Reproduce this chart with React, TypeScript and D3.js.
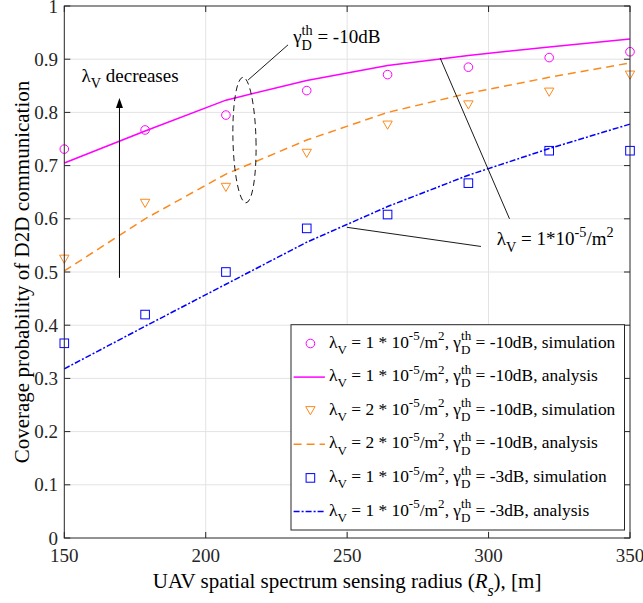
import React from "react";
import * as d3 from "d3";

const X = [150, 178.57, 207.14, 235.71, 264.29, 292.86, 321.43, 350];
const sim1 = [0.731, 0.767, 0.795, 0.841, 0.871, 0.885, 0.903, 0.914];
const ana1 = [0.705, 0.765, 0.823, 0.86, 0.888, 0.907, 0.923, 0.938];
const sim2 = [0.524, 0.629, 0.659, 0.723, 0.776, 0.814, 0.838, 0.87];
const ana2 = [0.502, 0.6, 0.684, 0.748, 0.8, 0.836, 0.866, 0.893];
const sim3 = [0.366, 0.42, 0.5, 0.582, 0.608, 0.667, 0.728, 0.728];
const ana3 = [0.318, 0.398, 0.477, 0.556, 0.623, 0.682, 0.732, 0.778];

const xTicks = [150, 200, 250, 300, 350];
const yTicks = [0, 0.1, 0.2, 0.3, 0.4, 0.5, 0.6, 0.7, 0.8, 0.9, 1];

const MAG = "#ff00ff";
const ORA = "#fb8a1e";
const BLU = "#0000ff";
const AX = "#262626";
const FONT = '"Liberation Serif", "Times New Roman", serif';

type Part =
  | { t: string; k?: "n" | "sub" | "sup"; it?: boolean }
  | { k: "ss"; sub: string; sup: string };

let ctx: CanvasRenderingContext2D | null = null;
function measure(s: string, size: number, italic = false) {
  if (!ctx) ctx = document.createElement("canvas").getContext("2d");
  if (!ctx) return s.length * size * 0.45;
  ctx.font = `${italic ? "italic " : ""}${size}px "Liberation Serif"`;
  return ctx.measureText(s).width;
}

function Rich(props: {
  x: number;
  y: number;
  size: number;
  parts: Part[];
  anchor?: string;
  transform?: string;
}) {
  const { x, y, size, parts, anchor = "start", transform } = props;
  const small = size * 0.75;
  const subY = 0.36 * size;
  const supY = -0.42 * size;
  const els: any[] = [];
  let cur = 0;
  let pdx = 0;
  parts.forEach((p: any, i) => {
    if (p.k === "ss") {
      const wsup = measure(p.sup, small);
      const wsub = measure(p.sub, small);
      els.push(
        <tspan key={i + "a"} dx={pdx || undefined} dy={supY - cur} fontSize={small}>
          {p.sup}
        </tspan>
      );
      els.push(
        <tspan key={i + "b"} dx={-wsup} dy={subY - supY} fontSize={small}>
          {p.sub}
        </tspan>
      );
      cur = subY;
      pdx = Math.max(0, wsup - wsub);
    } else {
      const target = p.k === "sub" ? subY : p.k === "sup" ? supY : 0;
      els.push(
        <tspan
          key={i}
          dx={pdx || undefined}
          dy={target - cur}
          fontSize={p.k === "sub" || p.k === "sup" ? small : size}
          fontStyle={p.it ? "italic" : undefined}
        >
          {p.t}
        </tspan>
      );
      cur = target;
      pdx = 0;
    }
  });
  return (
    <text
      x={x}
      y={y}
      fontSize={size}
      fontFamily={FONT}
      textAnchor={anchor}
      transform={transform}
      fill="#000"
      style={{ whiteSpace: "pre" }}
    >
      {els}
    </text>
  );
}

const legendItems = [
  { n: "1", g: "-10dB", kind: "simulation", color: MAG, marker: "o", dash: "" },
  { n: "1", g: "-10dB", kind: "analysis", color: MAG, marker: "", dash: "none" },
  { n: "2", g: "-10dB", kind: "simulation", color: ORA, marker: "v", dash: "" },
  { n: "2", g: "-10dB", kind: "analysis", color: ORA, marker: "", dash: "8,5" },
  { n: "1", g: "-3dB", kind: "simulation", color: BLU, marker: "s", dash: "" },
  { n: "1", g: "-3dB", kind: "analysis", color: BLU, marker: "", dash: "6,2,2,2" },
];

function Marker({ type, cx, cy, color }: { type: string; cx: number; cy: number; color: string }) {
  if (type === "o") return <circle cx={cx} cy={cy} r={4.3} fill="none" stroke={color} strokeWidth={1} />;
  if (type === "s")
    return <rect x={cx - 4.3} y={cy - 4.3} width={8.6} height={8.6} fill="none" stroke={color} strokeWidth={1} />;
  const h = 8.2;
  const w = 9.4;
  return (
    <path
      d={`M${cx - w / 2},${cy - h / 2}L${cx + w / 2},${cy - h / 2}L${cx},${cy + h / 2}Z`}
      fill="none"
      stroke={color}
      strokeWidth={1}
    />
  );
}

export default function App() {
  const x = d3.scaleLinear().domain([150, 350]).range([64.3, 630]);
  const y = d3.scaleLinear().domain([0, 1]).range([538, 6]);
  const line = d3
    .line<number>()
    .x((_, i) => x(X[i]))
    .y((v) => y(v));

  const [x0, x1] = x.range();
  const [y0, y1] = y.range();

  // annotations (data coordinates)
  const arrowX = 169.5;
  const arrowFrom = 0.489;
  const arrowTo = 0.827;
  const ax = x(arrowX);
  const at = y(arrowTo);

  const ell = { cx: 213.7, cy: 0.748, rx: 4.07, ry: 0.118 };

  const legRows = [343.5, 377.1, 410.7, 444.3, 477.9, 511.5];

  return (
    <svg
      width={643}
      height={603}
      style={{ position: "absolute", left: 0, top: 0, background: "#fff" }}
    >
      <rect x={0} y={0} width={643} height={603} fill="#fff" />
      {/* grid */}
      {xTicks.slice(1, -1).map((t) => (
        <line key={"gx" + t} x1={x(t)} x2={x(t)} y1={y0} y2={y1} stroke="#e3e3e3" strokeWidth={1} />
      ))}
      {yTicks.slice(1, -1).map((t) => (
        <line key={"gy" + t} x1={x0} x2={x1} y1={y(t)} y2={y(t)} stroke="#e3e3e3" strokeWidth={1} />
      ))}

      {/* analysis lines */}
      <path d={line(ana1) || ""} fill="none" stroke={MAG} strokeWidth={1.5} />
      <path d={line(ana2) || ""} fill="none" stroke={ORA} strokeWidth={1.5} strokeDasharray="8,5" />
      <path d={line(ana3) || ""} fill="none" stroke={BLU} strokeWidth={1.5} strokeDasharray="6,2,2,2" />

      {/* simulation markers */}
      {sim1.map((v, i) => (
        <Marker key={"m1" + i} type="o" cx={x(X[i])} cy={y(v)} color={MAG} />
      ))}
      {sim2.map((v, i) => (
        <Marker key={"m2" + i} type="v" cx={x(X[i])} cy={y(v)} color={ORA} />
      ))}
      {sim3.map((v, i) => (
        <Marker key={"m3" + i} type="s" cx={x(X[i])} cy={y(v)} color={BLU} />
      ))}

      {/* axes box */}
      <rect x={x0} y={y1} width={x1 - x0} height={y0 - y1} fill="none" stroke={AX} strokeWidth={1} />
      {xTicks.map((t) => (
        <g key={"tx" + t}>
          <line x1={x(t)} x2={x(t)} y1={y0} y2={y0 - 6} stroke={AX} />
          <line x1={x(t)} x2={x(t)} y1={y1} y2={y1 + 6} stroke={AX} />
          <text x={x(t)} y={561.5} fontSize={19} fontFamily={FONT} textAnchor="middle" fill={AX}>
            {t}
          </text>
        </g>
      ))}
      {yTicks.map((t) => (
        <g key={"ty" + t}>
          <line x1={x0} x2={x0 + 6} y1={y(t)} y2={y(t)} stroke={AX} />
          <line x1={x1} x2={x1 - 6} y1={y(t)} y2={y(t)} stroke={AX} />
          <text x={58} y={y(t) + 6.5} fontSize={19} fontFamily={FONT} textAnchor="end" fill={AX}>
            {String(t)}
          </text>
        </g>
      ))}

      {/* axis labels */}
      <Rich
        x={(x0 + x1) / 2}
        y={588}
        size={21}
        anchor="middle"
        parts={[
          { t: "UAV spatial spectrum sensing radius (" },
          { t: "R", it: true },
          { t: "s", k: "sub", it: true },
          { t: "), [m]" },
        ]}
      />
      <text
        transform={`translate(29,${(y0 + y1) / 2}) rotate(-90)`}
        fontSize={21}
        fontFamily={FONT}
        textAnchor="middle"
        fill="#000"
      >
        Coverage probability of D2D communication
      </text>

      {/* annotation: lambda decreases */}
      <line x1={ax} x2={ax} y1={y(arrowFrom)} y2={at + 9} stroke="#000" strokeWidth={1} />
      <path d={`M${ax},${at}L${ax - 3.5},${at + 10}L${ax + 3.5},${at + 10}Z`} fill="#000" />
      <Rich
        x={x(156.1)}
        y={y(0.858)}
        size={19}
        parts={[{ t: "λ" }, { t: "V", k: "sub" }, { t: " decreases" }]}
      />

      {/* annotation: gamma ellipse */}
      <ellipse
        cx={x(ell.cx)}
        cy={y(ell.cy)}
        rx={x(ell.cx + ell.rx) - x(ell.cx)}
        ry={y(ell.cy) - y(ell.cy + ell.ry)}
        transform={`rotate(-1.4 ${x(ell.cx)} ${y(ell.cy)})`}
        fill="none"
        stroke="#000"
        strokeWidth={0.9}
        strokeDasharray="6,4"
      />
      <line x1={x(215)} y1={y(0.861)} x2={x(229.1)} y2={y(0.927)} stroke="#000" strokeWidth={0.9} />
      <Rich
        x={x(230.9)}
        y={y(0.93)}
        size={19}
        parts={[{ t: "γ" }, { k: "ss", sub: "D", sup: "th" }, { t: " = -10dB" }]}
      />

      {/* annotation: lambda = 1e-5 */}
      <line x1={x(249.9)} y1={y(0.584)} x2={x(297.3)} y2={y(0.548)} stroke="#000" strokeWidth={0.9} />
      <line x1={x(282.9)} y1={y(0.902)} x2={x(307.4)} y2={y(0.6)} stroke="#000" strokeWidth={0.9} />
      <Rich
        x={x(302.9)}
        y={y(0.551)}
        size={19}
        parts={[
          { t: "λ" },
          { t: "V", k: "sub" },
          { t: " = 1*10" },
          { t: "-5", k: "sup" },
          { t: "/m" },
          { t: "2", k: "sup" },
        ]}
      />

      {/* legend */}
      <rect x={291} y={324.7} width={333.5} height={205.3} fill="#fff" stroke={AX} strokeWidth={1} />
      {legendItems.map((it, i) => {
        const cy = legRows[i];
        return (
          <g key={"lg" + i}>
            {it.marker ? (
              <Marker type={it.marker} cx={310.4} cy={cy} color={it.color} />
            ) : (
              <line
                x1={293.6}
                x2={324.9}
                y1={cy}
                y2={cy}
                stroke={it.color}
                strokeWidth={1.5}
                strokeDasharray={it.dash === "none" ? undefined : it.dash}
              />
            )}
            <Rich
              x={329}
              y={cy + 4}
              size={17.4}
              parts={[
                { t: "λ" },
                { t: "V", k: "sub" },
                { t: ` = ${it.n} * 10` },
                { t: "-5", k: "sup" },
                { t: "/m" },
                { t: "2", k: "sup" },
                { t: ", γ" },
                { k: "ss", sub: "D", sup: "th" },
                { t: ` = ${it.g}, ${it.kind}` },
              ]}
            />
          </g>
        );
      })}
    </svg>
  );
}
